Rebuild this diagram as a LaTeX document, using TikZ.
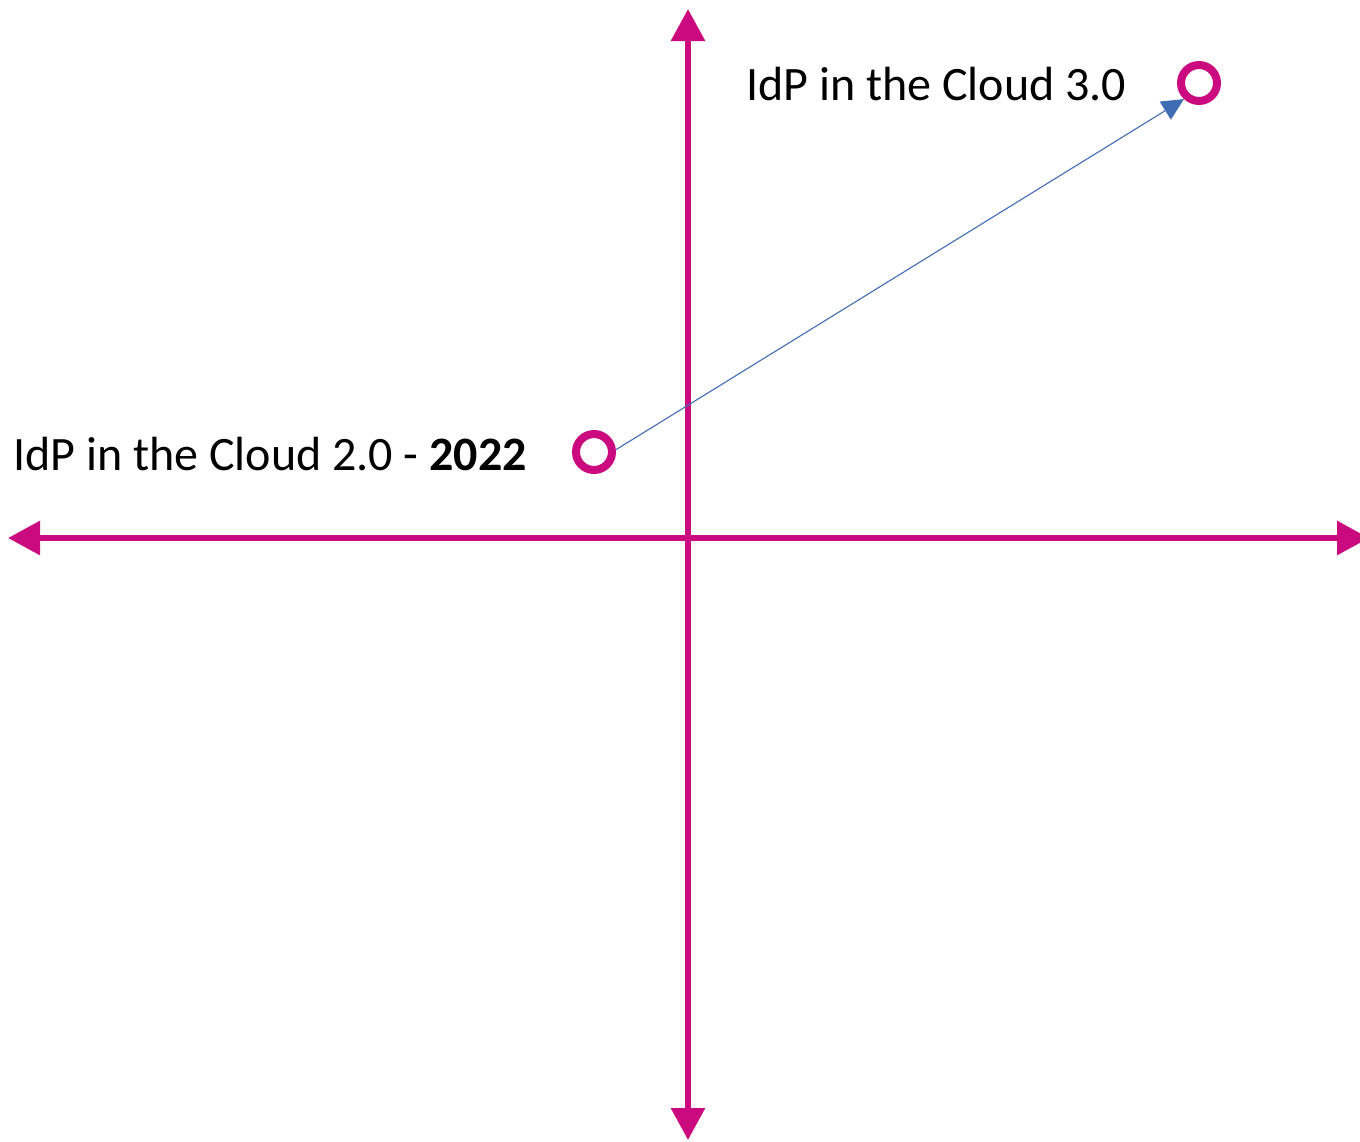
\documentclass[tikz,border=0pt]{standalone}
\usepackage{fontspec}
\setmainfont{Carlito}
\usetikzlibrary{arrows.meta}
\definecolor{axispink}{HTML}{CC0A7F}
\definecolor{arrowblue}{HTML}{3F6DB4}
\tikzset{
  axisline/.style={draw=axispink, line width=6pt, {Triangle[length=32pt,width=33pt]}-{Triangle[length=32pt,width=33pt]}},
  marker/.style={circle, draw=axispink, line width=8pt, minimum size=36pt, inner sep=0pt, fill=white},
  label/.style={inner sep=0pt, anchor=base west, font=\fontsize{48}{56}\selectfont},
  trend/.style={draw=arrowblue, line width=1.1pt, -{Triangle[length=22pt,width=21pt]}}
}
\begin{document}
\begin{tikzpicture}[x=1pt, y=-1pt]
\useasboundingbox (0,0) rectangle (1360,1141);
\coordinate (hl) at (8,538);
\coordinate (hr) at (1369,538);
\coordinate (vt) at (688,9);
\coordinate (vb) at (688,1140);
\draw[axisline] (hl) -- (hr);
\draw[axisline] (vb) -- (vt);
\node[marker] (c1) at (594,452) {};
\node[marker] (c2) at (1199,83) {};
\draw[trend] (c1.6) -- (c2.227);
\node[label] (t2) at (13,470) {IdP in the Cloud 2.0 - \textbf{2022}};
\node[label] (t3) at (746,100) {IdP in the Cloud 3.0};
\end{tikzpicture}
\end{document}
